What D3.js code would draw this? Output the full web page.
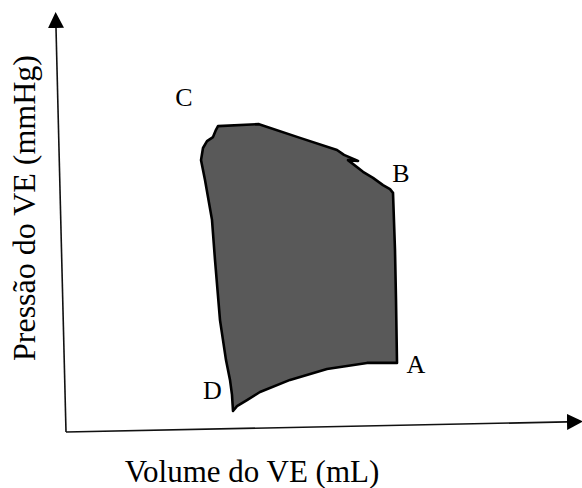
<!DOCTYPE html>
<html>
<head>
<meta charset="utf-8">
<script src="https://cdn.jsdelivr.net/npm/d3@7"></script>
<style>
  body { margin: 0; background: #fff; }
  text { font-family: "Liberation Serif", "Times New Roman", serif; fill: #000; }
</style>
</head>
<body>
<svg></svg>
<script>

// loop outline, volume (mL, arbitrary units) and pressure (arbitrary units)
var loopVolume = [66.2, 60.2, 52.2, 44.8, 38.8, 36.2, 34.2, 33.4, 33.2, 32.8, 32.0, 30.8, 29.8, 29.2, 27.8, 27.0, 27.4, 28.2, 29.4, 30.0, 30.4, 38.6, 46.8, 54.2, 55.6, 58.4, 56.4, 59.4, 61.4, 63.4, 64.8, 65.4, 65.8, 66.0];
var loopPressure = [17.1, 17.1, 15.6, 12.9, 9.9, 7.9, 6.4, 5.2, 9.2, 12.9, 17.8, 27.7, 42.6, 52.5, 62.4, 67.3, 70.3, 72.0, 73.0, 74.8, 75.7, 76.2, 72.8, 69.8, 68.6, 67.1, 67.3, 64.4, 62.9, 61.1, 60.1, 59.2, 45.0, 32.7];

// corner labels
var pointNames = ["A", "B", "C", "D"];
var pointVolume = [70.0, 67.0, 23.6, 29.3];
var pointPressure = [14.6, 61.9, 80.7, 8.1];

// hand-drawn axes (slightly skewed, as in the original sketch)
var xAxisVolume = [0, 100.2];
var xAxisPressure = [0, 2.5];
var yAxisVolume = [0, -2];
var yAxisPressure = [0, 100];

var xLabel = "Volume do VE (mL)";
var yLabel = "Pressão do VE (mmHg)";

var svgwidth = 582;
var svgheight = 488;

var svg = d3.select('svg').attr('width', svgwidth).attr('height', svgheight);

var margins = { top: 28, bottom: 56, left: 66, right: 16 };

var xScale = d3.scaleLinear().domain([0, 100]).range([margins.left, margins.left + 500]);
var yScale = d3.scaleLinear().domain([0, 100]).range([svgheight - margins.bottom, margins.top]);

// arrow heads
var defs = svg.append('defs');
defs.append('marker')
    .attr('id', 'arrow')
    .attr('viewBox', '0 0 10 10')
    .attr('refX', 0)
    .attr('refY', 5)
    .attr('markerUnits', 'userSpaceOnUse')
    .attr('markerWidth', 16)
    .attr('markerHeight', 16)
    .attr('orient', 'auto')
    .append('path')
    .attr('d', 'M0,0 L10,5 L0,10 Z')
    .attr('fill', '#000');

var axisLine = d3.line()
    .x(function(d){ return xScale(d[0]); })
    .y(function(d){ return yScale(d[1]); });

var axes = [
  d3.zip(xAxisVolume, xAxisPressure),
  d3.zip(yAxisVolume, yAxisPressure)
];

svg.append('g').classed('axes', true)
   .selectAll('path')
   .data(axes)
   .enter().append('path')
   .attr('d', axisLine)
   .attr('fill', 'none')
   .attr('stroke', '#111')
   .attr('stroke-width', 1.6)
   .attr('marker-end', 'url(#arrow)');

// the PV loop
var loop = d3.zip(loopVolume, loopPressure);

var loopLine = d3.line()
    .x(function(d){ return xScale(d[0]); })
    .y(function(d){ return yScale(d[1]); })
    .curve(d3.curveLinearClosed);

svg.append('path').classed('loop', true)
   .datum(loop)
   .attr('d', loopLine)
   .attr('fill', '#595959')
   .attr('stroke', '#000')
   .attr('stroke-width', 2.6)
   .attr('stroke-linejoin', 'round');

// corner letters
svg.append('g').classed('points', true)
   .selectAll('text')
   .data(pointNames)
   .enter().append('text')
   .attr('x', function(d, i){ return xScale(pointVolume[i]); })
   .attr('y', function(d, i){ return yScale(pointPressure[i]); })
   .attr('text-anchor', 'middle')
   .style('font-size', '26px')
   .text(function(d){ return d; });

// axis titles
svg.append('text').classed('xLabel', true)
   .attr('x', 252)
   .attr('y', 482)
   .attr('text-anchor', 'middle')
   .style('font-size', '31px')
   .text(xLabel);

svg.append('text').classed('yLabel', true)
   .attr('transform', 'translate(35,208) rotate(-90)')
   .attr('text-anchor', 'middle')
   .style('font-size', '32px')
   .text(yLabel);

</script>
</body>
</html>
